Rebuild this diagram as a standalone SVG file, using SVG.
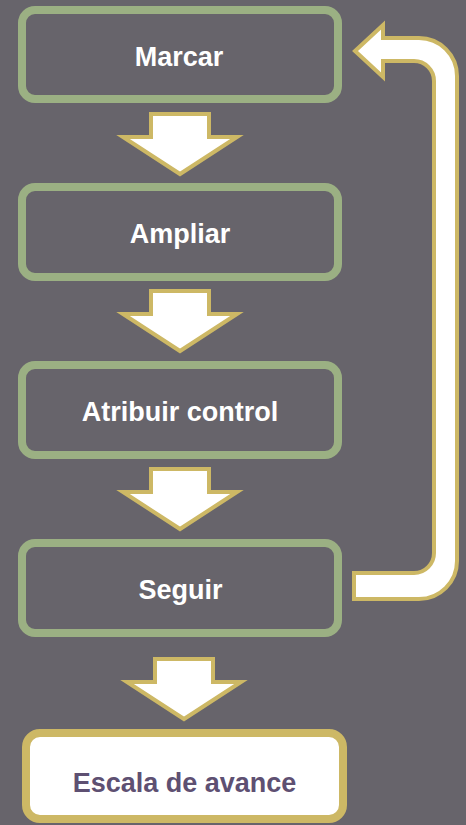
<svg xmlns="http://www.w3.org/2000/svg" xmlns:xlink="http://www.w3.org/1999/xlink" width="466" height="825" viewBox="0 0 466 825">
  <style>
    .box { fill: none; stroke: #9BB083; stroke-width: 8; }
    .final { fill: #FFFFFF; stroke: #CDB865; stroke-width: 8; }
    .lbl { font-family: "Liberation Sans", Arial, sans-serif; font-weight: 700; font-size: 27px; fill: #FFFFFF; text-anchor: middle; }
    .lbl2 { fill: #5E5072; }
    .arr { fill: #FFFFFF; stroke: #CDB865; stroke-width: 4; stroke-linejoin: miter; }
  </style>
  <defs>
    <path id="down" d="M151 0 L209 0 L209 23 L237 23 L180 60 L123 23 L151 23 Z"/>
  </defs>
  <rect x="0" y="0" width="466" height="825" fill="#67646B"/>

  <g id="connectors">
    <use xlink:href="#down" href="#down" class="arr" transform="translate(0,114)"/>
    <use xlink:href="#down" href="#down" class="arr" transform="translate(0,291)"/>
    <use xlink:href="#down" href="#down" class="arr" transform="translate(0,469)"/>
    <use xlink:href="#down" href="#down" class="arr" transform="translate(4,659)"/>
    <path id="loop" class="arr" d="M354 573 L414 573 A20 20 0 0 0 434 553 L434 81 A20 20 0 0 0 414 61 L383 61 L383 77 L355 51 L383 25 L383 38 L419 38 A38 38 0 0 1 457 76 L457 561 A38 38 0 0 1 419 599 L354 599 Z"/>
  </g>

  <g id="node-marcar">
    <rect class="box" x="22" y="10" width="316" height="89" rx="13"/>
    <text class="lbl" x="179" y="66">Marcar</text>
  </g>
  <g id="node-ampliar">
    <rect class="box" x="22" y="187" width="316" height="90" rx="13"/>
    <text class="lbl" x="180" y="243">Ampliar</text>
  </g>
  <g id="node-atribuir">
    <rect class="box" x="22" y="365" width="316" height="90" rx="13"/>
    <text class="lbl" x="180" y="421">Atribuir control</text>
  </g>
  <g id="node-seguir">
    <rect class="box" x="22" y="543" width="316" height="90" rx="13"/>
    <text class="lbl" x="180.5" y="599">Seguir</text>
  </g>
  <g id="node-escala">
    <rect class="final" x="26" y="733" width="317" height="86" rx="14"/>
    <text class="lbl lbl2" x="184.5" y="792">Escala de avance</text>
  </g>
</svg>
